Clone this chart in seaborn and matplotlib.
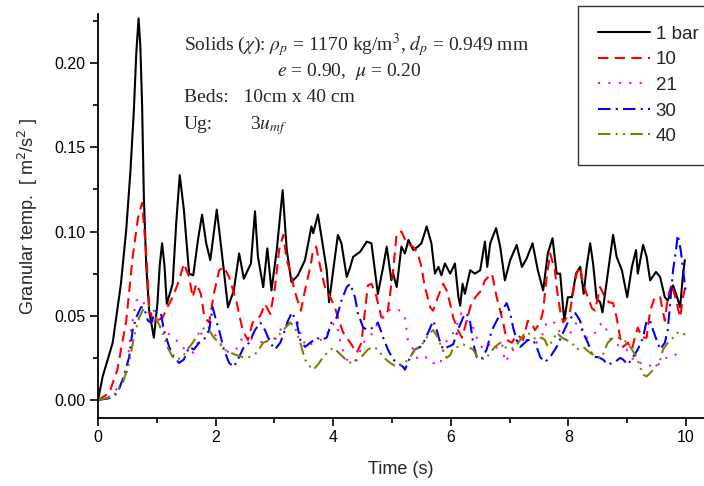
import numpy as np
import pandas as pd
import matplotlib
matplotlib.use("Agg")
import matplotlib.pyplot as plt
import seaborn as sns

# ---------------- data ----------------
t_1bar = [0.00, 0.08, 0.25, 0.39, 0.48, 0.55, 0.61, 0.65, 0.69, 0.72, 0.75, 0.78, 0.82, 0.87, 0.95,
          1.01, 1.05, 1.09, 1.13, 1.17, 1.27, 1.33, 1.39, 1.46, 1.55, 1.62, 1.70, 1.77, 1.84, 1.91,
          2.02, 2.12, 2.21, 2.31, 2.40, 2.48, 2.60, 2.67, 2.72, 2.81, 2.88, 2.95, 3.04, 3.14, 3.21,
          3.29, 3.40, 3.52, 3.63, 3.66, 3.74, 3.80, 3.89, 3.93, 4.00, 4.08, 4.14, 4.23, 4.29, 4.34,
          4.46, 4.57, 4.65, 4.76, 4.85, 4.91, 4.99, 5.02, 5.08, 5.16, 5.22, 5.28, 5.36, 5.44, 5.50,
          5.59, 5.67, 5.73, 5.79, 5.84, 5.90, 5.99, 6.07, 6.13, 6.16, 6.20, 6.24, 6.33, 6.41, 6.50,
          6.58, 6.62, 6.67, 6.77, 6.84, 6.92, 7.01, 7.12, 7.21, 7.29, 7.39, 7.48, 7.57, 7.65, 7.73,
          7.80, 7.86, 7.93, 7.99, 8.06, 8.13, 8.20, 8.26, 8.31, 8.37, 8.42, 8.48, 8.54, 8.58, 8.67,
          8.76, 8.82, 8.91, 9.00, 9.08, 9.15, 9.18, 9.27, 9.33, 9.39, 9.49, 9.56, 9.64, 9.69, 9.78,
          9.84, 9.90, 9.95, 9.98]
v_1bar = [0.000, 0.014, 0.034, 0.069, 0.101, 0.135, 0.172, 0.205, 0.2265, 0.210, 0.175, 0.120, 0.080, 0.053, 0.037,
          0.057, 0.080, 0.093, 0.080, 0.057, 0.069, 0.105, 0.1335, 0.113, 0.075, 0.074, 0.095, 0.110, 0.093, 0.083,
          0.113, 0.083, 0.055, 0.065, 0.087, 0.072, 0.081, 0.112, 0.085, 0.067, 0.090, 0.065, 0.089, 0.1245, 0.089,
          0.070, 0.074, 0.083, 0.103, 0.099, 0.110, 0.097, 0.077, 0.058, 0.077, 0.098, 0.093, 0.073, 0.079, 0.085,
          0.088, 0.094, 0.093, 0.063, 0.079, 0.091, 0.071, 0.075, 0.067, 0.091, 0.087, 0.095, 0.089, 0.091, 0.093,
          0.103, 0.093, 0.075, 0.079, 0.074, 0.081, 0.075, 0.081, 0.061, 0.056, 0.069, 0.063, 0.077, 0.075, 0.077,
          0.094, 0.079, 0.093, 0.102, 0.091, 0.071, 0.083, 0.092, 0.079, 0.084, 0.093, 0.077, 0.065, 0.087, 0.096,
          0.075, 0.075, 0.047, 0.061, 0.061, 0.075, 0.079, 0.063, 0.079, 0.093, 0.081, 0.060, 0.058, 0.052, 0.075,
          0.098, 0.085, 0.077, 0.061, 0.079, 0.089, 0.075, 0.092, 0.085, 0.071, 0.076, 0.073, 0.061, 0.059, 0.068,
          0.062, 0.055, 0.075, 0.083]

t_10 = [0.00, 0.19, 0.33, 0.48, 0.59, 0.68, 0.75, 0.82, 0.87, 0.93, 1.01, 1.10, 1.18, 1.27, 1.38,
        1.46, 1.55, 1.61, 1.67, 1.75, 1.81, 1.89, 1.97, 2.06, 2.14, 2.23, 2.35, 2.46, 2.55, 2.63,
        2.67, 2.76, 2.84, 2.93, 3.01, 3.08, 3.15, 3.21, 3.28, 3.35, 3.45, 3.52, 3.61, 3.66, 3.71,
        3.78, 3.86, 3.95, 4.03, 4.08, 4.17, 4.29, 4.40, 4.48, 4.54, 4.59, 4.65, 4.73, 4.82, 4.88,
        4.93, 5.02, 5.08, 5.16, 5.25, 5.36, 5.44, 5.50, 5.56, 5.65, 5.70, 5.78, 5.87, 5.93, 5.99,
        6.04, 6.12, 6.19, 6.27, 6.35, 6.44, 6.52, 6.58, 6.70, 6.78, 6.84, 6.89, 6.95, 7.04, 7.09,
        7.14, 7.23, 7.31, 7.37, 7.43, 7.52, 7.57, 7.63, 7.69, 7.77, 7.80, 7.86, 7.91, 7.97, 8.03,
        8.08, 8.14, 8.20, 8.25, 8.33, 8.40, 8.45, 8.54, 8.62, 8.69, 8.76, 8.82, 8.88, 8.93, 9.01,
        9.08, 9.13, 9.18, 9.25, 9.33, 9.39, 9.47, 9.56, 9.64, 9.69, 9.76, 9.84, 9.90, 9.95, 10.00]
v_10 = [0.000, 0.004, 0.018, 0.047, 0.085, 0.108, 0.117, 0.087, 0.057, 0.046, 0.047, 0.049, 0.055, 0.061, 0.071,
        0.081, 0.073, 0.061, 0.069, 0.063, 0.049, 0.046, 0.063, 0.077, 0.079, 0.073, 0.059, 0.0415, 0.0355, 0.046,
        0.047, 0.050, 0.057, 0.051, 0.067, 0.089, 0.098, 0.083, 0.075, 0.064, 0.053, 0.065, 0.079, 0.089, 0.091,
        0.079, 0.067, 0.061, 0.055, 0.049, 0.040, 0.034, 0.028, 0.034, 0.053, 0.068, 0.069, 0.062, 0.049, 0.049,
        0.053, 0.077, 0.099, 0.100, 0.093, 0.091, 0.087, 0.079, 0.067, 0.055, 0.053, 0.061, 0.069, 0.065, 0.057,
        0.049, 0.0415, 0.037, 0.047, 0.0575, 0.062, 0.065, 0.071, 0.075, 0.061, 0.053, 0.046, 0.0356, 0.034, 0.037,
        0.0385, 0.0356, 0.047, 0.046, 0.0415, 0.046, 0.053, 0.073, 0.087, 0.077, 0.067, 0.053, 0.046, 0.049, 0.053,
        0.064, 0.075, 0.079, 0.069, 0.061, 0.0545, 0.053, 0.067, 0.061, 0.058, 0.0575, 0.049, 0.037, 0.0315, 0.034,
        0.030, 0.037, 0.043, 0.037, 0.037, 0.053, 0.061, 0.061, 0.047, 0.061, 0.069, 0.0575, 0.049, 0.061, 0.069]

t_21 = [0.00, 0.19, 0.36, 0.48, 0.56, 0.65, 0.73, 0.82, 0.90, 0.99, 1.07, 1.16, 1.24, 1.33, 1.41,
        1.50, 1.61, 1.70, 1.78, 1.87, 1.95, 2.04, 2.12, 2.23, 2.35, 2.43, 2.55, 2.67, 2.81, 2.89,
        2.98, 3.10, 3.21, 3.32, 3.40, 3.46, 3.55, 3.66, 3.78, 3.86, 3.95, 4.03, 4.08, 4.14, 4.23,
        4.34, 4.42, 4.51, 4.59, 4.68, 4.76, 4.85, 4.93, 5.02, 5.14, 5.22, 5.27, 5.36, 5.44, 5.61,
        5.70, 5.82, 5.90, 5.99, 6.07, 6.18, 6.27, 6.35, 6.44, 6.55, 6.70, 6.78, 6.87, 6.92, 7.04,
        7.12, 7.23, 7.35, 7.46, 7.54, 7.63, 7.71, 7.80, 7.89, 7.97, 8.06, 8.14, 8.23, 8.28, 8.40,
        8.48, 8.57, 8.65, 8.74, 8.82, 8.91, 8.99, 9.08, 9.13, 9.22, 9.33, 9.42, 9.50, 9.59, 9.67,
        9.78, 9.86, 9.95]
v_21 = [0.000, 0.002, 0.008, 0.014, 0.0415, 0.059, 0.0605, 0.055, 0.049, 0.047, 0.046, 0.040, 0.0385, 0.0356, 0.0315,
        0.030, 0.028, 0.034, 0.0415, 0.043, 0.0415, 0.0356, 0.0315, 0.028, 0.030, 0.0356, 0.037, 0.0356, 0.034, 0.037,
        0.034, 0.0415, 0.046, 0.046, 0.046, 0.037, 0.0315, 0.034, 0.0356, 0.037, 0.043, 0.046, 0.0415, 0.0315, 0.024,
        0.022, 0.0255, 0.034, 0.037, 0.040, 0.046, 0.0515, 0.053, 0.0545, 0.053, 0.049, 0.0356, 0.030, 0.024, 0.0255,
        0.022, 0.021, 0.034, 0.037, 0.0415, 0.0515, 0.047, 0.046, 0.037, 0.030, 0.034, 0.031, 0.034, 0.0225, 0.028,
        0.0356, 0.0356, 0.0356, 0.034, 0.037, 0.046, 0.047, 0.045, 0.037, 0.0356, 0.0415, 0.046, 0.0415, 0.037, 0.037,
        0.0415, 0.046, 0.0415, 0.034, 0.033, 0.0315, 0.030, 0.0255, 0.022, 0.022, 0.022, 0.0196, 0.0196, 0.024, 0.025,
        0.0255, 0.028, 0.0285]

t_30 = [0.00, 0.19, 0.33, 0.44, 0.53, 0.59, 0.65, 0.73, 0.78, 0.85, 0.90, 0.99, 1.07, 1.12, 1.21,
        1.29, 1.38, 1.46, 1.55, 1.63, 1.72, 1.80, 1.89, 1.95, 2.01, 2.06, 2.14, 2.23, 2.31, 2.40,
        2.48, 2.57, 2.67, 2.76, 2.84, 2.93, 3.01, 3.10, 3.18, 3.23, 3.30, 3.38, 3.44, 3.52, 3.61,
        3.72, 3.80, 3.89, 3.97, 4.06, 4.14, 4.23, 4.29, 4.37, 4.42, 4.51, 4.59, 4.68, 4.76, 4.85,
        4.93, 5.02, 5.10, 5.19, 5.22, 5.31, 5.39, 5.48, 5.56, 5.65, 5.70, 5.76, 5.82, 5.87, 5.95,
        6.04, 6.12, 6.21, 6.27, 6.33, 6.38, 6.44, 6.52, 6.61, 6.70, 6.78, 6.87, 6.95, 7.01, 7.06,
        7.12, 7.18, 7.26, 7.31, 7.40, 7.46, 7.52, 7.60, 7.69, 7.80, 7.91, 7.99, 8.11, 8.20, 8.25,
        8.33, 8.42, 8.50, 8.59, 8.67, 8.79, 8.88, 8.93, 9.01, 9.10, 9.18, 9.27, 9.33, 9.39, 9.44,
        9.50, 9.56, 9.64, 9.69, 9.74, 9.78, 9.83, 9.86, 9.91, 9.95, 10.00]
v_30 = [0.000, 0.001, 0.004, 0.014, 0.0255, 0.0415, 0.049, 0.055, 0.055, 0.047, 0.046, 0.053, 0.0515, 0.0415, 0.0315,
        0.0255, 0.022, 0.024, 0.0315, 0.030, 0.034, 0.0356, 0.0415, 0.055, 0.047, 0.0415, 0.030, 0.022, 0.0196, 0.0255,
        0.0315, 0.034, 0.0415, 0.046, 0.0415, 0.034, 0.030, 0.034, 0.0415, 0.047, 0.052, 0.046, 0.0356, 0.0315, 0.034,
        0.037, 0.0356, 0.037, 0.046, 0.049, 0.059, 0.067, 0.069, 0.061, 0.0515, 0.043, 0.0415, 0.043, 0.046, 0.037,
        0.030, 0.024, 0.022, 0.0196, 0.018, 0.0255, 0.030, 0.0315, 0.0356, 0.043, 0.047, 0.0415, 0.034, 0.030, 0.0315,
        0.033, 0.0415, 0.049, 0.0515, 0.046, 0.034, 0.0255, 0.024, 0.030, 0.0415, 0.047, 0.053, 0.0575, 0.0515, 0.043,
        0.0356, 0.0315, 0.034, 0.0356, 0.0356, 0.0315, 0.0255, 0.0225, 0.0255, 0.0315, 0.040, 0.046, 0.052, 0.047, 0.040,
        0.034, 0.0255, 0.0255, 0.024, 0.021, 0.0225, 0.025, 0.024, 0.021, 0.0255, 0.030, 0.037, 0.047, 0.047, 0.0415,
        0.0356, 0.030, 0.034, 0.0415, 0.061, 0.077, 0.089, 0.098, 0.089, 0.077, 0.0635]

t_40 = [0.00, 0.25, 0.42, 0.53, 0.61, 0.70, 0.78, 0.87, 0.95, 1.01, 1.10, 1.18, 1.27, 1.35, 1.44,
        1.52, 1.61, 1.72, 1.80, 1.89, 1.97, 2.06, 2.14, 2.26, 2.35, 2.46, 2.57, 2.70, 2.81, 2.93,
        3.04, 3.15, 3.27, 3.35, 3.44, 3.52, 3.61, 3.66, 3.74, 3.83, 3.91, 4.00, 4.08, 4.17, 4.25,
        4.34, 4.42, 4.51, 4.59, 4.68, 4.76, 4.85, 4.97, 5.08, 5.19, 5.27, 5.31, 5.39, 5.48, 5.56,
        5.65, 5.70, 5.78, 5.84, 5.93, 5.99, 6.04, 6.12, 6.21, 6.29, 6.38, 6.46, 6.58, 6.67, 6.75,
        6.84, 6.92, 7.01, 7.09, 7.18, 7.26, 7.31, 7.40, 7.48, 7.54, 7.60, 7.65, 7.74, 7.80, 7.89,
        7.97, 8.06, 8.14, 8.25, 8.37, 8.48, 8.57, 8.62, 8.67, 8.76, 8.84, 8.93, 9.01, 9.08, 9.16,
        9.22, 9.27, 9.33, 9.39, 9.47, 9.56, 9.61, 9.69, 9.78, 9.86, 9.95, 9.98]
v_40 = [0.000, 0.002, 0.010, 0.022, 0.037, 0.049, 0.0545, 0.056, 0.053, 0.047, 0.040, 0.0315, 0.0255, 0.024, 0.0255,
        0.030, 0.034, 0.040, 0.0425, 0.0415, 0.037, 0.034, 0.030, 0.028, 0.0267, 0.0255, 0.0255, 0.028, 0.034, 0.0356,
        0.037, 0.0415, 0.046, 0.043, 0.034, 0.024, 0.0196, 0.018, 0.021, 0.0255, 0.0285, 0.031, 0.0285, 0.0255, 0.0225,
        0.022, 0.024, 0.0267, 0.030, 0.0315, 0.030, 0.0255, 0.022, 0.0196, 0.021, 0.024, 0.0255, 0.030, 0.0315, 0.0356,
        0.040, 0.0415, 0.037, 0.0315, 0.025, 0.0267, 0.031, 0.0315, 0.033, 0.0315, 0.030, 0.025, 0.024, 0.028, 0.0315,
        0.034, 0.0315, 0.030, 0.0315, 0.0356, 0.040, 0.040, 0.037, 0.0356, 0.037, 0.0356, 0.0315, 0.0356, 0.040, 0.037,
        0.0356, 0.034, 0.030, 0.0315, 0.028, 0.0255, 0.025, 0.030, 0.034, 0.037, 0.037, 0.0356, 0.034, 0.030, 0.0255,
        0.0196, 0.015, 0.014, 0.016, 0.019, 0.024, 0.030, 0.034, 0.037, 0.040, 0.040, 0.0385]

labels = ["1 bar", "10", "21", "30", "40"]
x_ticks = [0, 2, 4, 6, 8, 10]
y_ticks = [0.00, 0.05, 0.10, 0.15, 0.20]

# ---------------- style ----------------
sns.set_style("ticks")
plt.rcParams["font.family"] = ["Liberation Sans", "DejaVu Sans"]
plt.rcParams["mathtext.fontset"] = "stix"

W, H = 704, 486
fig = plt.figure(figsize=(W / 100, H / 100), dpi=100)
ax = fig.add_axes([98 / W, 1 - 418 / H, (704 - 98) / W, (418 - 14) / H])

series = [(t_1bar, v_1bar), (t_10, v_10), (t_21, v_21), (t_30, v_30), (t_40, v_40)]
colors = ["#000000", "#FF0000", "#FF00FF", "#0000FF", "#808000"]
dash_list = [None, (5, 3), (1, 4), (6, 2.5, 1, 2.5), (6, 2.5, 1, 2.5, 1, 2.5)]

handles = []
for (t, v), lab, c, d in zip(series, labels, colors, dash_list):
    df = pd.DataFrame({"t": t, "v": v})
    sns.lineplot(data=df, x="t", y="v", ax=ax, color=c, linewidth=1.5,
                 estimator=None, sort=False, errorbar=None)
    ln = ax.lines[-1]
    if d is not None:
        ln.set_dashes(d)
    ln.set_label(lab)
    handles.append(ln)

ax.set_xlim(0, (704 - 98) / 58.8)
ax.set_ylim((400 - 418) / 1685, (400 - 14) / 1685)
ax.set_xticks(x_ticks)
ax.set_xticklabels([str(x) for x in x_ticks])
ax.set_xticks([1, 3, 5, 7, 9], minor=True)
ax.set_yticks(y_ticks)
ax.set_yticklabels([f"{y:.2f}" for y in y_ticks])
ax.set_yticks([0.025, 0.075, 0.125, 0.175, 0.225], minor=True)
ax.tick_params(axis="both", which="major", direction="out", length=6, width=1.2,
               labelsize=11.5, colors="black", pad=3)
ax.tick_params(axis="both", which="minor", direction="out", length=3.5, width=1.2, colors="black")

for s in ["top", "right"]:
    ax.spines[s].set_visible(False)
for s in ["left", "bottom"]:
    ax.spines[s].set_linewidth(1.3)
    ax.spines[s].set_color("black")

ax.set_xlabel("Time (s)", fontsize=13, labelpad=11)
ax.set_ylabel("Granular temp.  [ m$^2$/s$^2$ ]", fontsize=13, labelpad=10)
ax.yaxis.label.set_math_fontfamily("dejavusans")
ax.grid(False)

leg = ax.legend(handles=handles, labels=labels, loc="upper left",
                bbox_to_anchor=(578 / W, 1 - 6 / H), bbox_transform=fig.transFigure,
                fontsize=13.5, frameon=True, fancybox=False, handlelength=2.8,
                handletextpad=0.3, labelspacing=0.45, borderpad=1.05, borderaxespad=0)
leg.get_frame().set_edgecolor("black")
leg.get_frame().set_linewidth(1.0)

serif = ["Liberation Serif", "DejaVu Serif"]
fs = 14
fig.text(184 / W, 1 - 50 / H, r"Solids ($\chi$): $\rho_p$ = 1170 kg/m$^3$, $d_p$ = 0.949 mm",
         fontsize=fs, family=serif, va="baseline", ha="left")
fig.text(277 / W, 1 - 76 / H, r"$e$ = 0.90,  $\mu$ = 0.20",
         fontsize=fs, family=serif, va="baseline", ha="left")
fig.text(184 / W, 1 - 102 / H, "Beds:   10cm x 40 cm",
         fontsize=fs, family=serif, va="baseline", ha="left")
fig.text(184 / W, 1 - 129 / H, "Ug:",
         fontsize=fs, family=serif, va="baseline", ha="left")
fig.text(250 / W, 1 - 129 / H, r"3$u_{mf}$",
         fontsize=fs, family=serif, va="baseline", ha="left")

fig.savefig("out.png", dpi=100, facecolor="white")
